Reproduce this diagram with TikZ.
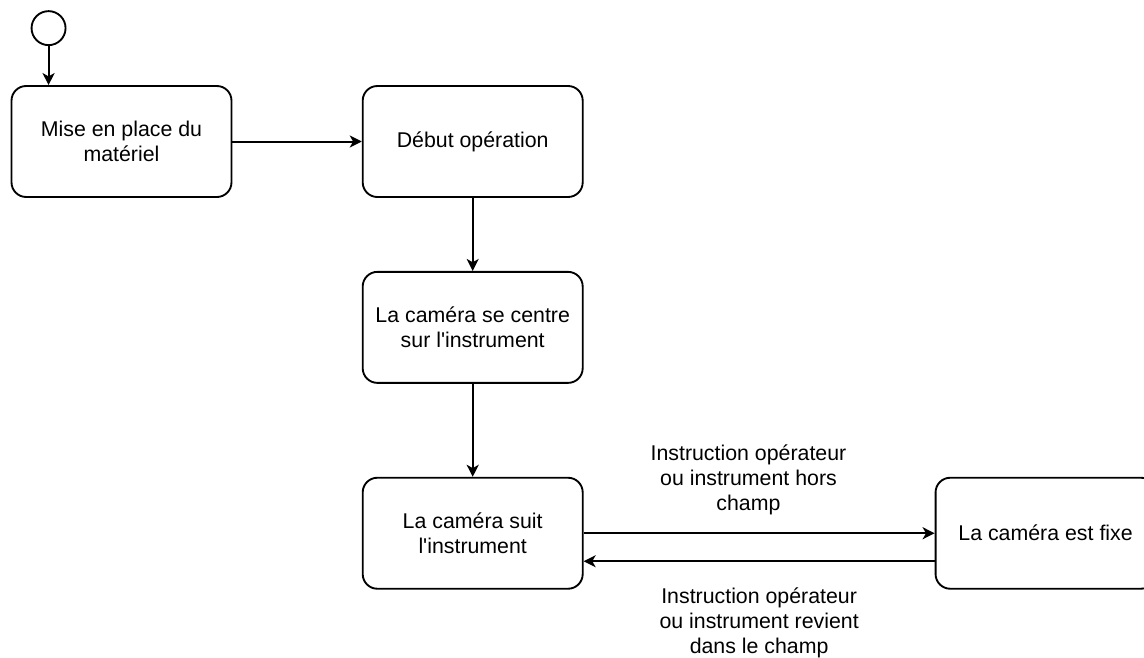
\documentclass[tikz,border=0pt]{standalone}
\usepackage{fontspec}
\setmainfont{Liberation Sans}
\usetikzlibrary{positioning,arrows.meta}

\begin{document}
\begin{tikzpicture}[
        every node/.style={align=center, font=\fontsize{16}{18.75}\selectfont},
        state/.style={rectangle, draw, line width=1.4pt, rounded corners=11pt, minimum width=165pt, minimum height=83.25pt, inner sep=2pt},
        start/.style={circle, draw, line width=1.4pt, minimum size=25.5pt, inner sep=0pt},
        flow/.style={line width=1.5pt, -{Stealth[length=9pt, width=9pt, inset=2.5pt]}},
        guard/.style={inner sep=0pt}
    ]

    \useasboundingbox (0,0) rectangle (858pt,-492.75pt);

    % States
    \node[state] (setup) at (91.125pt,-106.125pt) {Mise en place du \\ matériel};
    \node[state, right=97pt of setup] (begin) {Début opération};
    \node[state, below=54.75pt of begin] (center) {La caméra se centre \\ sur l\textquotesingle instrument};
    \node[state, below=69.75pt of center] (track) {La caméra suit \\ l\textquotesingle instrument};
    \node[state, right=263.25pt of track] (fixed) {La caméra est fixe};

    % Initial state
    \node[start, above=29.25pt of setup.north west, xshift=28.5pt] (init) {};

    % Transitions
    \draw[flow] (init) -- (init |- setup.north);
    \draw[flow] (setup) -- (begin);
    \draw[flow] (begin) -- (center);
    \draw[flow] (center) -- (track);

    \draw[flow] (track) -- (fixed)
        node[guard, midway, yshift=39.75pt, xshift=-8pt] (lostlabel) {Instruction opérateur \\ ou instrument hors \\ champ};
    \draw[flow] ([yshift=-21pt]fixed.west) -- ([yshift=-21pt]track.east)
        node[guard, midway, yshift=-46.5pt] (backlabel) {Instruction opérateur \\ ou instrument revient \\ dans le champ};

    \end{tikzpicture}
\end{document}
